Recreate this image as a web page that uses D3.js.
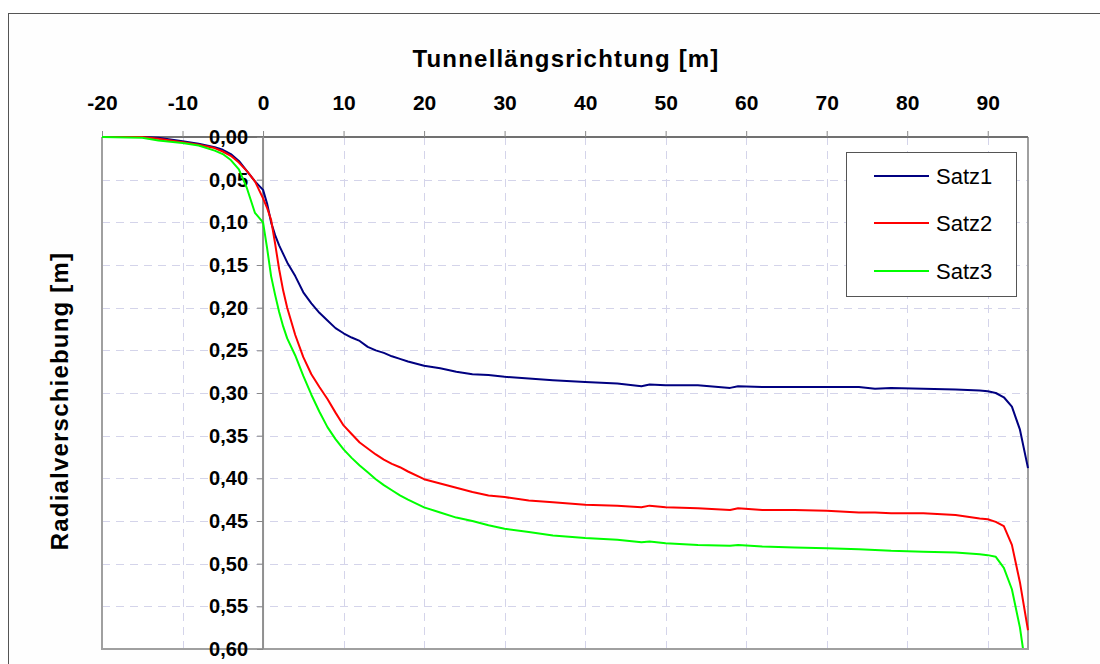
<!DOCTYPE html>
<html>
<head>
<meta charset="utf-8">
<script src="https://cdn.jsdelivr.net/npm/d3@7"></script>
<style>
  html, body { margin: 0; padding: 0; background: #ffffff; }
  svg { display: block; font-family: "Liberation Sans", Arial, sans-serif; }
</style>
</head>
<body>
<svg id="chart" width="1100" height="664"></svg>
<script>
// Station along the tunnel axis [m]
const distance = [-20, -15, -13, -10, -8, -6, -5, -4, -3, -2, -1, 0, 0.5, 1, 1.5, 2, 2.5, 3, 4, 5, 6, 7, 8, 9, 10,
  11, 12, 13, 14, 15, 16, 17, 18, 20, 22, 24, 26, 28, 30, 33, 36, 40, 44, 47, 48, 50, 54, 58, 59, 62, 66, 70,
  74, 76, 78, 82, 86, 89, 90, 91, 92, 93, 94, 95];

// Radial displacement [m] for each data set
const satz1 = [0, 0, 0.001, 0.005, 0.008, 0.012, 0.015, 0.02, 0.028, 0.04, 0.052, 0.062, 0.078, 0.1, 0.115, 0.127,
  0.137, 0.147, 0.163, 0.182, 0.195, 0.206, 0.215, 0.224, 0.23, 0.235, 0.239, 0.246, 0.25, 0.253, 0.257, 0.26,
  0.263, 0.268, 0.271, 0.275, 0.278, 0.279, 0.281, 0.283, 0.285, 0.287, 0.289, 0.292, 0.29, 0.291, 0.291, 0.294,
  0.292, 0.293, 0.293, 0.293, 0.293, 0.295, 0.294, 0.295, 0.296, 0.297, 0.298, 0.3, 0.305, 0.316, 0.343, 0.388];

const satz2 = [0, 0, 0.002, 0.006, 0.009, 0.013, 0.017, 0.022, 0.03, 0.04, 0.052, 0.072, 0.083, 0.097, 0.125, 0.155,
  0.18, 0.2, 0.232, 0.258, 0.278, 0.293, 0.307, 0.323, 0.338, 0.348, 0.358, 0.365, 0.372, 0.378, 0.383, 0.387,
  0.392, 0.401, 0.406, 0.411, 0.416, 0.42, 0.422, 0.426, 0.428, 0.431, 0.432, 0.434, 0.432, 0.434, 0.435, 0.437,
  0.435, 0.437, 0.437, 0.438, 0.44, 0.44, 0.441, 0.441, 0.443, 0.447, 0.448, 0.451, 0.456, 0.478, 0.522, 0.578];

const satz3 = [0, 0.001, 0.004, 0.007, 0.01, 0.016, 0.02, 0.027, 0.038, 0.06, 0.089, 0.1, 0.13, 0.163, 0.185, 0.205,
  0.222, 0.236, 0.256, 0.28, 0.302, 0.322, 0.34, 0.354, 0.366, 0.376, 0.385, 0.393, 0.401, 0.408, 0.414, 0.42,
  0.425, 0.434, 0.44, 0.446, 0.45, 0.455, 0.459, 0.463, 0.467, 0.47, 0.472, 0.475, 0.474, 0.476, 0.478, 0.479,
  0.478, 0.48, 0.481, 0.482, 0.483, 0.484, 0.485, 0.486, 0.487, 0.489, 0.49, 0.492, 0.505, 0.53, 0.575, 0.64];

const seriesNames = ["Satz1", "Satz2", "Satz3"];
const seriesColors = ["#000080", "#ff0000", "#00ff00"];
const xTicks = [-20, -10, 0, 10, 20, 30, 40, 50, 60, 70, 80, 90];
const yTicks = [0, 0.05, 0.1, 0.15, 0.2, 0.25, 0.3, 0.35, 0.4, 0.45, 0.5, 0.55, 0.6];

const svg = d3.select("#chart");
const plot = { left: 102, right: 1028, top: 137, bottom: 649 };

const x = d3.scaleLinear().domain([-20, 95]).range([plot.left, plot.right]);
const y = d3.scaleLinear().domain([0, 0.6]).range([plot.top, plot.bottom]);

const de = d3.formatLocale({ decimal: ",", thousands: ".", grouping: [3], currency: ["", " €"] });
const fmtY = de.format(".2f");

// outer chart frame
svg.append("rect").attr("x", 8.5).attr("y", 13.5).attr("width", 1100).attr("height", 700)
  .attr("fill", "#fefefe").attr("stroke", "#555").attr("stroke-width", 1);

// plot area background
svg.append("rect").attr("x", plot.left).attr("y", plot.top)
  .attr("width", plot.right - plot.left).attr("height", plot.bottom - plot.top).attr("fill", "#ffffff");

// dashed grid
const grid = svg.append("g").attr("stroke", "#d4d4ea").attr("stroke-width", 1).attr("stroke-dasharray", "8,6");
grid.selectAll("line.v").data(xTicks.filter(d => d > -20)).join("line").attr("class", "v")
  .attr("x1", d => Math.round(x(d)) + 0.5).attr("x2", d => Math.round(x(d)) + 0.5)
  .attr("y1", plot.top).attr("y2", plot.bottom);
grid.selectAll("line.h").data(yTicks.filter(d => d > 0 && d < 0.6)).join("line").attr("class", "h")
  .attr("x1", plot.left).attr("x2", plot.right)
  .attr("y1", d => Math.round(y(d)) + 0.5).attr("y2", d => Math.round(y(d)) + 0.5);

// plot border (left, bottom, right)
svg.append("path")
  .attr("d", `M${plot.left},${plot.top}V${plot.bottom}H${plot.right}V${plot.top}`)
  .attr("fill", "none").attr("stroke", "#a0a0a0").attr("stroke-width", 2);

// x axis along the top edge
const xAxis = svg.append("g").attr("transform", `translate(0,${plot.top})`)
  .call(d3.axisTop(x).tickValues(xTicks).tickSize(6).tickPadding(21).tickFormat(d3.format("d")));
xAxis.select(".domain").attr("stroke", "#707070").attr("stroke-width", 2)
  .attr("d", `M${plot.left},0H${plot.right}`);
xAxis.selectAll(".tick line").attr("stroke", "#888").attr("stroke-width", 1);
xAxis.selectAll(".tick text").attr("fill", "#000").attr("font-size", 21).attr("font-weight", "bold")
  .attr("font-family", "Liberation Sans, Arial, sans-serif")
  .text(d => d < 0 ? "-" + Math.abs(d) : d);

// y axis through station 0
const yAxis = svg.append("g").attr("transform", `translate(${x(0)},0)`)
  .call(d3.axisLeft(y).tickValues(yTicks).tickSize(6).tickPadding(9).tickFormat(fmtY));
yAxis.select(".domain").attr("stroke", "#909090").attr("stroke-width", 2)
  .attr("d", `M0,${plot.top}V${plot.bottom}`);
yAxis.selectAll(".tick line").attr("stroke", "#888").attr("stroke-width", 1);
yAxis.selectAll(".tick text").attr("fill", "#000").attr("font-size", 20).attr("font-weight", "bold")
  .attr("font-family", "Liberation Sans, Arial, sans-serif");

// curves
svg.append("clipPath").attr("id", "plotclip").append("rect")
  .attr("x", plot.left).attr("y", plot.top - 2)
  .attr("width", plot.right - plot.left + 1).attr("height", plot.bottom - plot.top + 1);

const line = d3.line().x(d => x(d[0])).y(d => y(d[1]));
const series = [satz1, satz2, satz3].map(vals => distance.map((d, i) => [d, vals[i]]));

svg.append("g").attr("clip-path", "url(#plotclip)")
  .selectAll("path").data(series).join("path")
  .attr("d", line).attr("fill", "none")
  .attr("stroke", (d, i) => seriesColors[i]).attr("stroke-width", 2)
  .attr("stroke-linejoin", "round");

// axis titles
svg.append("text").attr("x", 566).attr("y", 67).attr("text-anchor", "middle")
  .attr("font-size", 24).attr("font-weight", "bold").attr("letter-spacing", 1.2)
  .text("Tunnellängsrichtung [m]");

svg.append("text").attr("transform", "translate(68,401) rotate(-90)").attr("text-anchor", "middle")
  .attr("font-size", 24).attr("font-weight", "bold").attr("letter-spacing", 1.2)
  .text("Radialverschiebung [m]");

// legend
const legend = svg.append("g");
legend.append("rect").attr("x", 846.5).attr("y", 152.5).attr("width", 170).attr("height", 144)
  .attr("fill", "#ffffff").attr("stroke", "#555").attr("stroke-width", 1);
const legY = [176, 223, 271];
const items = legend.selectAll("g.item").data(seriesNames).join("g").attr("class", "item")
  .attr("transform", (d, i) => `translate(0,${legY[i]})`);
items.append("line").attr("x1", 874).attr("x2", 929).attr("y1", 0).attr("y2", 0)
  .attr("stroke", (d, i) => seriesColors[i]).attr("stroke-width", 2);
items.append("text").attr("x", 936).attr("y", 8).attr("font-size", 22).attr("fill", "#000")
  .text(d => d);
</script>
</body>
</html>
